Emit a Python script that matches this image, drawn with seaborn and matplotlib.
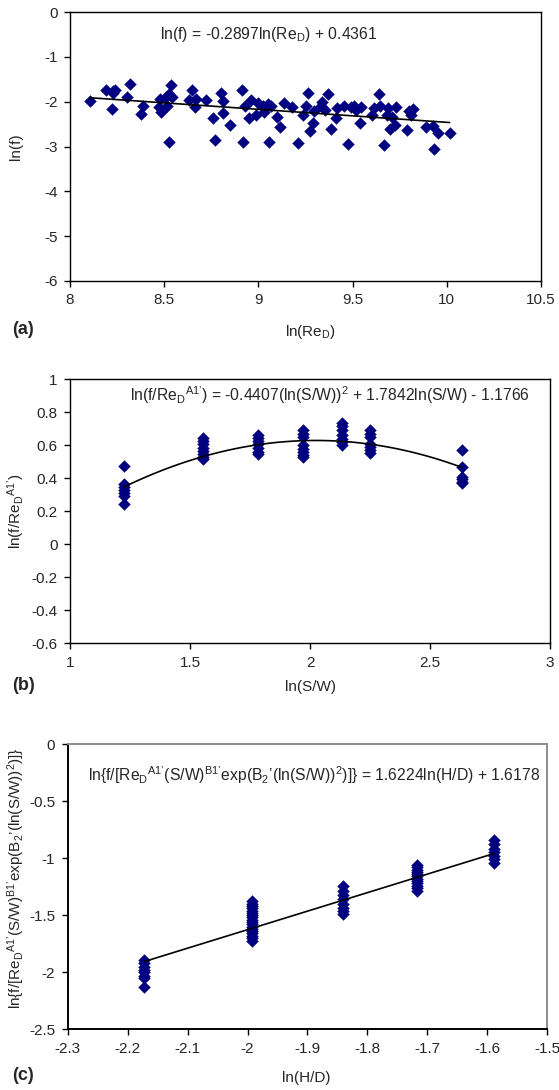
import numpy as np
import pandas as pd
import matplotlib
matplotlib.use("Agg")
import matplotlib.pyplot as plt
import seaborn as sns

# ---------------- data ----------------
# (a) ln(Re_D) vs ln(f)
a_x = [8.104, 8.19, 8.227, 8.24, 8.223, 8.23, 8.30, 8.316, 8.379, 8.388, 8.473, 8.481, 8.477, 8.507, 8.515,
       8.528, 8.534, 8.544, 8.524, 8.646, 8.634, 8.661, 8.667, 8.72, 8.761, 8.769, 8.80, 8.81, 8.814, 8.85,
       8.913, 8.92, 8.928, 8.95, 8.96, 8.985, 8.996, 9.027, 9.032, 9.049, 9.055, 9.068, 9.10, 9.115, 9.135,
       9.178, 9.212, 9.239, 9.254, 9.265, 9.273, 9.29, 9.297, 9.33, 9.34, 9.352, 9.37, 9.388, 9.41, 9.415,
       9.455, 9.477, 9.49, 9.51, 9.52, 9.537, 9.547, 9.604, 9.614, 9.642, 9.648, 9.667, 9.68, 9.69, 9.70,
       9.71, 9.723, 9.73, 9.79, 9.80, 9.81, 9.82, 9.888, 9.926, 9.93, 9.955, 10.015]
a_y = [-1.98, -1.74, -1.76, -1.73, -2.17, -1.80, -1.90, -1.61, -2.28, -2.10, -2.13, -2.24, -1.95, -1.89, -2.10,
       -2.89, -1.63, -1.90, -1.83, -1.74, -1.96, -2.11, -1.95, -1.96, -2.37, -2.86, -1.80, -1.98, -2.26, -2.53,
       -1.73, -2.89, -2.10, -2.37, -1.96, -2.29, -2.02, -2.10, -2.22, -2.05, -2.89, -2.10, -2.34, -2.56, -2.04,
       -2.11, -2.93, -2.30, -2.10, -1.80, -2.65, -2.47, -2.21, -2.10, -2.00, -2.19, -1.83, -2.60, -2.37, -2.15,
       -2.10, -2.95, -2.11, -2.10, -2.19, -2.48, -2.13, -2.30, -2.15, -1.84, -2.10, -2.97, -2.30, -2.15, -2.62,
       -2.34, -2.52, -2.13, -2.63, -2.21, -2.30, -2.17, -2.57, -2.54, -3.06, -2.69, -2.71]
a_coef = [-0.2897, 0.4361]

# (b) ln(S/W) clusters
b_sw = [1.224, 1.555, 1.784, 1.972, 2.134, 2.251, 2.632]
b_c1 = [0.474, 0.365, 0.345, 0.329, 0.31, 0.295, 0.242]
b_c2 = [0.645, 0.625, 0.605, 0.585, 0.565, 0.55, 0.53, 0.515]
b_c3 = [0.665, 0.645, 0.625, 0.605, 0.585, 0.56, 0.545]
b_c4 = [0.695, 0.67, 0.65, 0.60, 0.58, 0.56, 0.54, 0.53]
b_c5 = [0.735, 0.715, 0.69, 0.665, 0.64, 0.62, 0.60]
b_c6 = [0.695, 0.67, 0.65, 0.61, 0.59, 0.57, 0.555]
b_c7 = [0.57, 0.47, 0.41, 0.395, 0.38, 0.37]
b_coef = [-0.4407, 1.7842, -1.1766]

# (c) ln(H/D) clusters
c_hd = [-2.173, -1.993, -1.841, -1.718, -1.589]
c_c1 = [-1.89, -1.92, -1.95, -1.98, -2.00, -2.03, -2.05, -2.13]
c_c2 = [-1.38, -1.40, -1.42, -1.44, -1.46, -1.48, -1.50, -1.52, -1.54, -1.56, -1.58, -1.60,
        -1.62, -1.64, -1.66, -1.68, -1.70, -1.73]
c_c3 = [-1.24, -1.29, -1.32, -1.36, -1.40, -1.44, -1.46, -1.49]
c_c4 = [-1.06, -1.08, -1.10, -1.12, -1.14, -1.16, -1.18, -1.20, -1.22, -1.24, -1.26, -1.29]
c_c5 = [-0.84, -0.88, -0.92, -0.95, -0.98, -1.01, -1.04]
c_coef = [1.6224, 1.6178]

a_xticks = [8, 8.5, 9, 9.5, 10, 10.5]
a_yticks = [0, -1, -2, -3, -4, -5, -6]
b_xticks = [1, 1.5, 2, 2.5, 3]
b_yticks = [1, 0.8, 0.6, 0.4, 0.2, 0, -0.2, -0.4, -0.6]
c_xticks = [-2.3, -2.2, -2.1, -2, -1.9, -1.8, -1.7, -1.6, -1.5]
c_yticks = [0, -0.5, -1, -1.5, -2, -2.5]

# ---------------- style ----------------
sns.set_style("ticks")
plt.rcParams["font.family"] = ["Liberation Sans", "DejaVu Sans"]
plt.rcParams["mathtext.fontset"] = "custom"
plt.rcParams["mathtext.rm"] = "Liberation Sans"
plt.rcParams["mathtext.it"] = "Liberation Sans"
plt.rcParams["mathtext.default"] = "regular"

NAVY = "#000080"
FS = 11
EQFS = 11.3
W, H = 559, 1090
fig = plt.figure(figsize=(W / 100, H / 100), dpi=100)


def add_ax(l, r, t, b):
    return fig.add_axes([l / W, 1 - b / H, (r - l) / W, (b - t) / H])


def style_ax(ax, xt, yt, xl, yl, frame="black"):
    ax.set_xticks(xt)
    ax.set_yticks(yt)
    ax.set_xticklabels([f"{v:g}" for v in xt], fontsize=FS)
    ax.set_yticklabels([f"{v:g}" for v in yt], fontsize=FS)
    ax.tick_params(direction="out", length=4, width=1, color="black", pad=5)
    for s in ax.spines.values():
        s.set_visible(True)
        s.set_linewidth(1.0)
        s.set_color("black")
    if frame == "gray":
        ax.spines["top"].set_color("#8c8c8c")
        ax.spines["right"].set_color("#8c8c8c")
        for s in ax.spines.values():
            s.set_linewidth(1.4)
    ax.set_xlabel(xl, fontsize=FS)
    ax.set_ylabel(yl, fontsize=FS)
    ax.grid(False)


mk = dict(marker="D", s=36, color=NAVY, edgecolor=NAVY, linewidth=0.3, zorder=3, legend=False)

# ---- (a) ----
ax1 = add_ax(70, 541, 12, 281)
sns.scatterplot(x=a_x, y=a_y, ax=ax1, **mk)
xa = np.linspace(min(a_x), max(a_x), 50)
sns.lineplot(x=xa, y=a_coef[0] * xa + a_coef[1], ax=ax1, color="black", linewidth=1.2, zorder=4)
style_ax(ax1, a_xticks, a_yticks, r"ln(Re$_D$)", "ln(f)")
ax1.set_xlim(8, 10.5)
ax1.set_ylim(-6, 0)
ax1.xaxis.set_label_coords(0.51, -0.156)
ax1.yaxis.set_label_coords(-0.10, 0.5)
fig.text(160 / W, 1 - 35 / H, r"ln(f) = -0.2897ln(Re$_D$) + 0.4361", fontsize=EQFS, ha="left", va="center")
fig.text(12 / W, 1 - 329 / H, "(a)", fontsize=13, fontweight="bold", ha="left", va="center")

# ---- (b) ----
ax2 = add_ax(70.2, 550, 379.3, 643.3)
b_groups = [b_c1, b_c2, b_c3, b_c4, b_c5, b_c6, b_c7]
bx = [sw for sw, g in zip(b_sw, b_groups) for _ in g]
by = [v for g in b_groups for v in g]
sns.scatterplot(x=bx, y=by, ax=ax2, **mk)
xb = np.linspace(min(b_sw), max(b_sw), 80)
sns.lineplot(x=xb, y=b_coef[0] * xb ** 2 + b_coef[1] * xb + b_coef[2], ax=ax2,
             color="black", linewidth=1.2, zorder=4)
style_ax(ax2, b_xticks, b_yticks, "ln(S/W)", r"ln(f/Re$_D$$^{A1’}$)")
ax2.set_xlim(1, 3)
ax2.set_ylim(-0.6, 1)
ax2.xaxis.set_label_coords(0.5, -0.139)
ax2.yaxis.set_label_coords(-0.09, 0.5)
fig.text(130 / W, 1 - 395 / H,
         r"ln(f/Re$_D$$^{A1’}$) = -0.4407(ln(S/W))$^2$ + 1.7842ln(S/W) - 1.1766",
         fontsize=EQFS, ha="left", va="center")
fig.text(12 / W, 1 - 686 / H, "(b)", fontsize=13, fontweight="bold", ha="left", va="center")

# ---- (c) ----
ax3 = add_ax(67.7, 547.2, 744, 1029.3)
c_groups = [c_c1, c_c2, c_c3, c_c4, c_c5]
cx = [hd for hd, g in zip(c_hd, c_groups) for _ in g]
cy = [v for g in c_groups for v in g]
sns.scatterplot(x=cx, y=cy, ax=ax3, **mk)
xc = np.linspace(min(c_hd), max(c_hd), 50)
sns.lineplot(x=xc, y=c_coef[0] * xc + c_coef[1], ax=ax3, color="black", linewidth=1.2, zorder=4)
c_lab = r"ln{f/[Re$_D$$^{A1’}$(S/W)$^{B1’}$exp(B$_2$’(ln(S/W))$^2$)]}"
style_ax(ax3, c_xticks, c_yticks, "ln(H/D)", c_lab, frame="gray")
ax3.set_xlim(-2.3, -1.5)
ax3.set_ylim(-2.5, 0)
ax3.xaxis.set_label_coords(0.498, -0.146)
ax3.yaxis.set_label_coords(-0.0855, 0.53)
fig.text(88.4 / W, 1 - 775 / H, c_lab + " = 1.6224ln(H/D) + 1.6178",
         fontsize=EQFS, ha="left", va="center")
fig.text(12 / W, 1 - 1075 / H, "(c)", fontsize=13, fontweight="bold", ha="left", va="center")

fig.savefig("out.png", dpi=100, facecolor="white")
